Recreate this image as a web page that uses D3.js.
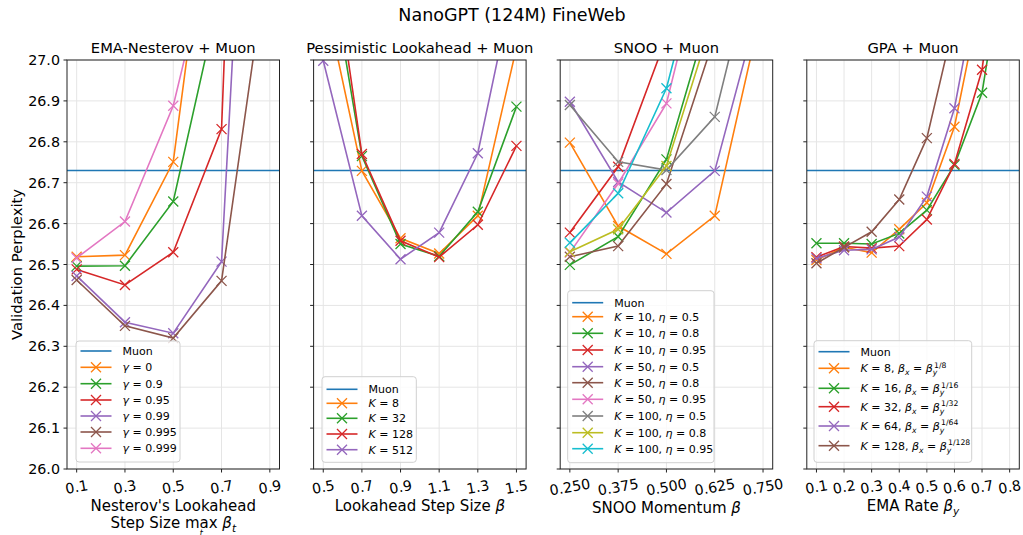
<!DOCTYPE html>
<html>
<head>
<meta charset="utf-8">
<script src="https://cdn.jsdelivr.net/npm/d3@7/dist/d3.min.js"></script>
<style>
  body { margin: 0; background: #fff; }
  text { font-family: "DejaVu Sans", sans-serif; white-space: pre; }
</style>
</head>
<body>
<svg id="chart" width="1023" height="535"></svg>
<script>
// ---- data ----
const muonPerplexity = 26.73;

const emaX = [0.1, 0.3, 0.5, 0.7, 0.9];
const emaTicks = [0.1, 0.3, 0.5, 0.7, 0.9];
const emaLabels = ["γ = 0", "γ = 0.9", "γ = 0.95", "γ = 0.99", "γ = 0.995", "γ = 0.999"];
const emaValues = [
  [26.519, 26.523, 26.751, 27.65, null],
  [26.496, 26.497, 26.654, 27.18, null],
  [26.488, 26.450, 26.530, 26.831, 29.9],
  [26.472, 26.359, 26.332, 26.507, 28.7],
  [26.462, 26.350, 26.320, 26.460, 27.29],
  [26.516, 26.605, 26.888, 27.38, null]
];

const lookX = [0.5, 0.7, 0.9, 1.1, 1.3, 1.5];
const lookTicks = [0.5, 0.7, 0.9, 1.1, 1.3, 1.5];
const lookLabels = ["K = 8", "K = 32", "K = 128", "K = 512"];
const lookValues = [
  [27.17, 26.729, 26.564, 26.527, 26.619, 27.03],
  [27.33, 26.765, 26.550, 26.520, 26.629, 26.886],
  [27.42, 26.770, 26.558, 26.518, 26.597, 26.790],
  [26.998, 26.619, 26.513, 26.578, 26.772, 27.22]
];

const snooX = [0.25, 0.375, 0.5, 0.625, 0.75];
const snooTicks = [0.25, 0.375, 0.5, 0.625, 0.75];
const snooLabels = ["K = 10, η = 0.5", "K = 10, η = 0.8", "K = 10, η = 0.95",
  "K = 50, η = 0.5", "K = 50, η = 0.8", "K = 50, η = 0.95",
  "K = 100, η = 0.5", "K = 100, η = 0.8", "K = 100, η = 0.95"];
const snooValues = [
  [26.798, 26.594, 26.526, 26.619, 27.14],
  [26.499, 26.568, 26.757, 27.16, null],
  [26.578, 26.739, 27.056, null, null],
  [26.898, 26.702, 26.627, 26.729, 27.17],
  [26.519, 26.545, 26.697, 27.058, null],
  [26.529, 26.698, 26.894, 27.37, null],
  [26.890, 26.751, 26.731, 26.861, 27.34],
  [26.531, 26.586, 26.741, 27.117, null],
  [26.553, 26.674, 26.931, 27.386, null]
];

const gpaX = [0.1, 0.2, 0.3, 0.4, 0.5, 0.6, 0.7, 0.8];
const gpaTicks = [0.1, 0.2, 0.3, 0.4, 0.5, 0.6, 0.7, 0.8];
const gpaLabels = ["K = 8, β_x = β_y^{1/8}", "K = 16, β_x = β_y^{1/16}", "K = 32, β_x = β_y^{1/32}",
  "K = 64, β_x = β_y^{1/64}", "K = 128, β_x = β_y^{1/128}"];
const gpaValues = [
  [26.511, 26.542, 26.529, 26.586, 26.651, 26.837, 27.17, null],
  [26.552, 26.552, 26.550, 26.576, 26.633, 26.743, 26.920, 27.34],
  [26.518, 26.544, 26.540, 26.545, 26.610, 26.746, 26.976, 27.50],
  [26.515, 26.535, 26.537, 26.567, 26.666, 26.882, 27.24, null],
  [26.503, 26.542, 26.580, 26.659, 26.809, 27.096, null, null]
];

const yTicks = [26.0, 26.1, 26.2, 26.3, 26.4, 26.5, 26.6, 26.7, 26.8, 26.9, 27.0];

// ---- layout ----
const colors = ["#1f77b4", "#ff7f0e", "#2ca02c", "#d62728", "#9467bd",
  "#8c564b", "#e377c2", "#7f7f7f", "#bcbd22", "#17becf"];
const plotTop = 60, plotBottom = 469, panelW = 212.5;
const lefts = [67, 313.6, 560.2, 806.8];

const panels = [
  { title: "EMA-Nesterov + Muon", x: emaX, ticks: emaTicks, fmt: d3.format(".1f"),
    domain: [0.06, 0.94], labels: emaLabels, values: emaValues,
    legend: { x: 9, y: 341, w: 104, h: 121, rows: [10, 26.3, 42.7, 59, 75, 91, 107.3] } },
  { title: "Pessimistic Lookahead + Muon", x: lookX, ticks: lookTicks, fmt: d3.format(".1f"),
    domain: [0.45, 1.55], labels: lookLabels, values: lookValues,
    legend: { x: 8.4, y: 376.7, w: 94.3, h: 85.6, rows: [12.6, 26.6, 41.6, 57.3, 73] } },
  { title: "SNOO + Muon", x: snooX, ticks: snooTicks, fmt: d3.format(".3f"),
    domain: [0.225, 0.775], labels: snooLabels, values: snooValues,
    legend: { x: 7.5, y: 290.7, w: 146.3, h: 172, rows: [12, 26, 42.6, 59.3, 76, 92, 108.6, 125.3, 142, 158] } },
  { title: "GPA + Muon", x: gpaX, ticks: gpaTicks, fmt: d3.format(".1f"),
    domain: [0.065, 0.835], labels: gpaLabels, values: gpaValues,
    legend: { x: 7.2, y: 340.7, w: 157.7, h: 121.6, rows: [11, 27.6, 47.6, 66, 85.3, 105] } }
];

const svg = d3.select("#chart");
const y = d3.scaleLinear().domain([26.0, 27.0]).range([plotBottom, plotTop]);

// turn "K = 8, β_x = β_y^{1/8}" into styled pieces
function parseMath(str) {
  const parts = [];
  let i = 0, buf = "";
  const flush = () => { if (buf) { parts.push({ t: buf }); buf = ""; } };
  while (i < str.length) {
    const ch = str[i];
    if (ch === "_") { flush(); parts.push({ t: str[i + 1], sub: true, it: true }); i += 2; continue; }
    if (ch === "^") {
      flush();
      const end = str.indexOf("}", i);
      parts.push({ t: str.slice(i + 2, end), sup: true });
      i = end + 1; continue;
    }
    if ("Kγηβ".includes(ch)) { flush(); parts.push({ t: ch, it: true }); i++; continue; }
    buf += ch; i++;
  }
  flush();
  return parts;
}

function richText(sel, parts, fs) {
  let cur = 0, lastSub = null;
  parts.forEach(p => {
    const target = p.sub ? fs * 0.28 : p.sup ? -fs * 0.42 : 0;
    const ts = sel.append("tspan").text(p.t).attr("dy", target - cur);
    if (p.it) ts.attr("font-style", "italic");
    if (p.sub || p.sup) ts.attr("font-size", fs * 0.7);
    if (p.sup && lastSub) ts.attr("dx", -lastSub.node().getComputedTextLength() + fs * 0.12);
    lastSub = p.sub ? ts : null;
    cur = target;
  });
}

function xMarker(g, cx, cy, color, s) {
  g.append("path")
    .attr("d", `M${cx - s},${cy - s}L${cx + s},${cy + s}M${cx - s},${cy + s}L${cx + s},${cy - s}`)
    .attr("stroke", color).attr("stroke-width", 1.3).attr("fill", "none");
}

svg.append("text").attr("x", 512).attr("y", 21).attr("text-anchor", "middle")
  .attr("font-size", 17.5).text("NanoGPT (124M) FineWeb");

svg.append("text").attr("transform", "translate(22,264.5) rotate(-90)")
  .attr("text-anchor", "middle").attr("font-size", 14.8).text("Validation Perplexity");

panels.forEach((p, pi) => {
  const left = lefts[pi], right = left + panelW;
  const x = d3.scaleLinear().domain(p.domain).range([left, right]);
  const g = svg.append("g");

  g.append("clipPath").attr("id", "clip" + pi).append("rect")
    .attr("x", left).attr("y", plotTop).attr("width", panelW).attr("height", plotBottom - plotTop);

  // grid
  g.append("g").selectAll("line").data(yTicks).join("line")
    .attr("x1", left).attr("x2", right).attr("y1", d => y(d)).attr("y2", d => y(d))
    .attr("stroke", "#e5e5e5").attr("stroke-width", 1);
  g.append("g").selectAll("line").data(p.ticks).join("line")
    .attr("y1", plotTop).attr("y2", plotBottom).attr("x1", d => x(d)).attr("x2", d => x(d))
    .attr("stroke", "#e5e5e5").attr("stroke-width", 1);

  const plot = g.append("g").attr("clip-path", `url(#clip${pi})`);
  plot.append("line").attr("x1", left).attr("x2", right)
    .attr("y1", y(muonPerplexity)).attr("y2", y(muonPerplexity))
    .attr("stroke", colors[0]).attr("stroke-width", 1.6);

  const line = d3.line().defined(d => d[1] != null).x(d => x(d[0])).y(d => y(d[1]));
  p.values.forEach((vals, si) => {
    const color = colors[si + 1];
    const pts = p.x.map((xv, k) => [xv, vals[k]]);
    plot.append("path").datum(pts).attr("d", line)
      .attr("fill", "none").attr("stroke", color).attr("stroke-width", 1.6);
    pts.filter(d => d[1] != null).forEach(d => xMarker(plot, x(d[0]), y(d[1]), color, 5));
  });

  // spines
  g.append("rect").attr("x", left).attr("y", plotTop).attr("width", panelW).attr("height", plotBottom - plotTop)
    .attr("fill", "none").attr("stroke", "#222").attr("stroke-width", 1);

  // y ticks
  g.append("g").selectAll("line").data(yTicks).join("line")
    .attr("x1", left - 3.5).attr("x2", left).attr("y1", d => y(d)).attr("y2", d => y(d))
    .attr("stroke", "#222");
  if (pi === 0) {
    g.append("g").selectAll("text").data(yTicks).join("text")
      .attr("x", left - 7).attr("y", d => y(d) + 5).attr("text-anchor", "end")
      .attr("font-size", 14.3).text(d => d3.format(".1f")(d));
  }

  // x ticks
  g.append("g").selectAll("line").data(p.ticks).join("line")
    .attr("y1", plotBottom).attr("y2", plotBottom + 3.5).attr("x1", d => x(d)).attr("x2", d => x(d))
    .attr("stroke", "#222");
  g.append("g").selectAll("text").data(p.ticks).join("text")
    .attr("transform", d => `translate(${x(d)},487) rotate(-10)`)
    .attr("text-anchor", "middle").attr("dy", "0.35em")
    .attr("font-size", 14.3).text(d => p.fmt(d));

  // title
  g.append("text").attr("x", left + panelW / 2).attr("y", 52.5).attr("text-anchor", "middle")
    .attr("font-size", 14.7).text(p.title);

  // legend
  const L = p.legend;
  const lg = g.append("g").attr("transform", `translate(${left + L.x},${L.y})`);
  lg.append("rect").attr("width", L.w).attr("height", L.h).attr("rx", 3)
    .attr("fill", "#fff").attr("fill-opacity", 0.8).attr("stroke", "#d0d0d0");
  const entries = ["Muon"].concat(p.labels);
  entries.forEach((lab, k) => {
    const ry = L.rows[k];
    const color = colors[k];
    lg.append("line").attr("x1", 4.5).attr("x2", 35.5).attr("y1", ry).attr("y2", ry)
      .attr("stroke", color).attr("stroke-width", 1.6);
    if (k > 0) xMarker(lg, 20, ry, color, 5);
    const t = lg.append("text").attr("x", 46.5).attr("y", ry + 4).attr("font-size", 11);
    richText(t, parseMath(lab), 11);
  });
});

// x axis labels
const xl = (i, yy, str) => {
  const t = svg.append("text").attr("x", lefts[i] + panelW / 2).attr("y", yy)
    .attr("text-anchor", "middle").attr("font-size", 15);
  richText(t, parseMath(str), 15);
  return t;
};
xl(0, 511, "Nesterov's Lookahead");
const line2 = xl(0, 528, "Step Size max β_t");
// limit "t" sits under "max"
const l2 = line2.node(), mi = "Step Size max".indexOf("max");
const mA = l2.getExtentOfChar(mi), mB = l2.getExtentOfChar(mi + 2);
svg.append("text").attr("x", (mA.x + mB.x + mB.width) / 2).attr("y", 535.5)
  .attr("text-anchor", "middle").attr("font-size", 8).attr("font-style", "italic").text("t");
xl(1, 511, "Lookahead Step Size β");
xl(2, 513, "SNOO Momentum β");
xl(3, 511, "EMA Rate β_y");
</script>
</body>
</html>
